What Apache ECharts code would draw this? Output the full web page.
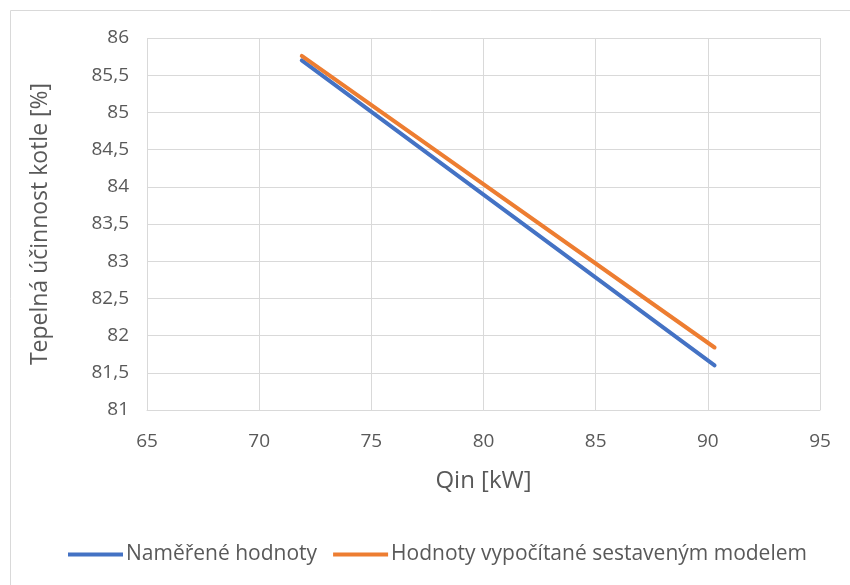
<!DOCTYPE html>
<html><head><meta charset="utf-8">
<script src="https://cdn.jsdelivr.net/npm/echarts@6/dist/echarts.min.js"></script>
<style>html,body{margin:0;padding:0;background:#fff}#c{width:850px;height:585px}</style>
</head><body><div id="c"></div>
<script>
const seriesNames = ['Naměřené hodnoty', 'Hodnoty vypočítané sestaveným modelem'];
const measuredQin = [71.9, 90.3];
const measuredEff = [85.70, 81.60];
const modelQin = [71.9, 90.3];
const modelEff = [85.76, 81.84];
const xTitle = 'Qin [kW]';
const yTitle = 'Tepelná účinnost kotle [%]';

const fmt = v => String(v).replace('.', ',');
const font = 'Open Sans';
const chart = echarts.init(document.getElementById('c'), null, {renderer: 'canvas'});
chart.setOption({
  animation: false,
  textStyle: {fontFamily: font},
  graphic: [{type: 'rect', shape: {x: 10.5, y: 10.5, width: 850, height: 600}, style: {fill: 'none', stroke: '#d9d9d9', lineWidth: 1}}],
  grid: {left: 147, right: 30, top: 38, bottom: 175},
  legend: {
    top: 539, left: 63, itemWidth: 55, itemHeight: 4, itemGap: 16,
    icon: 'rect',
    textStyle: {fontFamily: font, fontSize: 21, color: '#595959', padding: [0, 0, 0, -2]},
    data: seriesNames
  },
  xAxis: {
    type: 'value', min: 65, max: 95, interval: 5,
    name: xTitle, nameLocation: 'middle', nameGap: 59,
    nameTextStyle: {fontSize: 24, color: '#595959', fontFamily: font},
    axisLine: {show: true, lineStyle: {color: '#d9d9d9'}},
    axisTick: {show: false},
    axisLabel: {fontSize: 19, color: '#595959', margin: 22, formatter: fmt},
    splitLine: {show: true, lineStyle: {color: '#d9d9d9'}}
  },
  yAxis: {
    type: 'value', min: 81, max: 86, interval: 0.5,
    name: yTitle, nameLocation: 'middle', nameGap: 95, nameRotate: 90,
    nameTextStyle: {fontSize: 23, color: '#595959', fontFamily: font},
    axisLine: {show: false},
    axisTick: {show: false},
    axisLabel: {fontSize: 19, color: '#595959', margin: 18, formatter: fmt},
    splitLine: {show: true, lineStyle: {color: '#d9d9d9'}}
  },
  series: [
    {name: seriesNames[0], type: 'line', data: measuredQin.map((x, i) => [x, measuredEff[i]]),
     showSymbol: false, lineStyle: {width: 4, color: '#4472C4', cap: 'round'}, itemStyle: {color: '#4472C4'}},
    {name: seriesNames[1], type: 'line', data: modelQin.map((x, i) => [x, modelEff[i]]),
     showSymbol: false, lineStyle: {width: 4, color: '#ED7D31', cap: 'round'}, itemStyle: {color: '#ED7D31'}}
  ]
});
</script></body></html>
